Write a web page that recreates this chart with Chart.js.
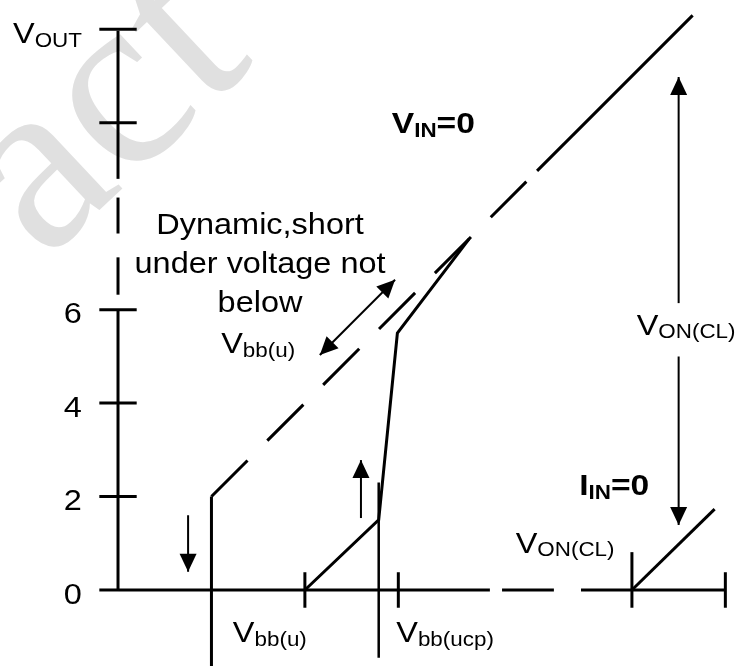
<!DOCTYPE html>
<html>
<head>
<meta charset="utf-8">
<script src="https://cdn.jsdelivr.net/npm/chart.js@4.4.1/dist/chart.umd.min.js"></script>
<style>
  html, body { margin: 0; padding: 0; background: #fff; overflow: hidden; }
  canvas { display: block; }
</style>
</head>
<body>
<canvas id="c" width="739" height="666" style="width:739px;height:666px"></canvas>
<script>
// Supply voltage V_bb on x, output voltage V_OUT on y (volts, same scale both ways)
const xRange = [-2.526, 13.292];
const yRange = [-1.627, 12.628];

// Axis ticks
const yTickValues = [0, 2, 4, 6, 10, 12];
const yTickLabels = ['0', '2', '4', '6', '', ''];
const xTickValues = [4, 6, 11, 13];

// Broken axis pieces [from, to]
const yAxisPieces = [[0, 6], [6.32, 7.12], [7.63, 8.40], [8.80, 11.97]];
const xAxisPieces = [[0, 7.96], [8.22, 9.33], [9.91, 12.99]];

// Characteristics [V_bb, V_OUT]
const vinZeroDashed = [[2, 2], [8.74, 8.74]];
const vinZeroSolid = [[8.97, 8.97], [12.3, 12.3]];
const startupCurve = [[4, 0], [5.58, 1.5], [5.98, 5.5], [7.52, 7.52]];
const clampCurve = [[11, 0], [12.77, 1.73]];
const dropLine = [[2, 2], [2, -1.75]];
const ucpLine = [[5.58, 2.3], [5.58, -1.45]];

// Arrows [tail, tip]
const arrowFall = [[1.5, 1.6], [1.5, 0.39]];
const arrowRise = [[5.2, 1.54], [5.2, 2.78]];
const arrowDynamic = [[4.32, 5.03], [5.93, 6.64]];
const arrowClampUp = [[12, 6.14], [12, 10.98]];
const arrowClampDown = [[12, 5.0], [12, 1.39]];

const SANS = "'Liberation Sans', Arial, Helvetica, sans-serif";
const M = '29px ' + SANS;
const S = '20px ' + SANS;
const MB = 'bold 30px ' + SANS;
const SB = 'bold 20px ' + SANS;

// Text notes: parts = [text, font, baseline shift]; at = [V_bb, V_OUT]
const notes = [
  { parts: [['V', M], ['OUT', S, 4]], at: [-2.247, 11.708], align: 'left' },
  { parts: [['Dynamic,short', M]], at: [3.04, 7.62], align: 'center' },
  { parts: [['under voltage not', M]], at: [3.04, 6.785], align: 'center' },
  { parts: [['below', M]], at: [3.04, 5.95], align: 'center' },
  { parts: [['V', M], ['bb(u)', S, 4]], at: [3.0, 5.07], align: 'center' },
  { parts: [['V', MB], ['IN', SB, 4], ['=0', MB]], at: [6.75, 9.78], align: 'center' },
  { parts: [['V', M], ['ON(CL)', S, 3]], at: [12.16, 5.46], align: 'center' },
  { parts: [['I', MB], ['IN', SB, 4], ['=0', MB]], at: [10.62, 2.03], align: 'center' },
  { parts: [['V', M], ['ON(CL)', S, 3]], at: [9.57, 0.79], align: 'center' },
  { parts: [['V', M], ['bb(u)', S, 4]], at: [3.25, -1.11], align: 'center' },
  { parts: [['V', M], ['bb(ucp)', S, 4]], at: [7.0, -1.11], align: 'center' }
];

const toPts = arr => arr.map(([x, y]) => ({ x, y }));

function seg(points, extra) {
  return Object.assign({
    data: toPts(points),
    showLine: true,
    borderColor: '#000',
    backgroundColor: '#000',
    borderWidth: 3,
    borderCapStyle: 'butt',
    pointRadius: 0,
    pointHoverRadius: 0,
    tension: 0,
    fill: false
  }, extra || {});
}

const datasets = [];
yAxisPieces.forEach(([a, b]) => datasets.push(seg([[0, a], [0, b]])));
xAxisPieces.forEach(([a, b]) => datasets.push(seg([[a, 0], [b, 0]])));
yTickValues.forEach(v => datasets.push(seg(v === 0 ? [[-0.4, 0], [0, 0]] : [[-0.4, v], [0.4, v]])));
xTickValues.forEach(v => datasets.push(seg(v === 11 ? [[v, -0.38], [v, 0.81]] : [[v, -0.38], [v, 0.38]])));

datasets.push(seg(vinZeroDashed, { borderDash: [51, 28] }));
datasets.push(seg(vinZeroSolid));
datasets.push(seg(startupCurve));
datasets.push(seg(clampCurve));
datasets.push(seg(dropLine));
datasets.push(seg(ucpLine, { borderWidth: 2.5 }));

datasets.push(seg(arrowFall, { borderWidth: 2, heads: ['end'] }));
datasets.push(seg(arrowRise, { borderWidth: 2, heads: ['end'] }));
datasets.push(seg(arrowDynamic, { borderWidth: 2, heads: ['start', 'end'] }));
datasets.push(seg(arrowClampUp, { borderWidth: 2, heads: ['end'] }));
datasets.push(seg(arrowClampDown, { borderWidth: 2, heads: ['end'] }));

function drawRich(ctx, parts, px, py, align, hs) {
  let w = 0;
  const m = parts.map(([t, f, dy]) => {
    ctx.font = f;
    const pw = ctx.measureText(t).width;
    w += pw;
    return { t, f, dy: dy || 0, pw };
  });
  const x0 = align === 'center' ? px - w * hs / 2 : align === 'right' ? px - w * hs : px;
  ctx.save();
  ctx.translate(x0, py);
  ctx.scale(hs, 1);
  ctx.textBaseline = 'alphabetic';
  ctx.textAlign = 'left';
  ctx.fillStyle = '#000';
  let x = 0;
  m.forEach(p => {
    ctx.font = p.f;
    ctx.fillText(p.t, x, p.dy);
    x += p.pw;
  });
  ctx.restore();
}

const backdrop = {
  id: 'backdrop',
  beforeDraw(chart) {
    const ctx = chart.ctx;
    ctx.save();
    ctx.fillStyle = '#fff';
    ctx.fillRect(0, 0, chart.width, chart.height);
    // faint watermark lettering
    ctx.translate(44, 262);
    ctx.rotate(-Math.PI * 0.24);
    ctx.font = "250px 'Liberation Serif', 'Times New Roman', serif";
    ctx.fillStyle = '#e0e0e0';
    ctx.textBaseline = 'alphabetic';
    ctx.fillText('act', 0, 0);
    ctx.restore();
  }
};

const annotate = {
  id: 'annotate',
  afterDatasetsDraw(chart) {
    const ctx = chart.ctx;
    const xs = chart.scales.x, ys = chart.scales.y;
    // arrowheads
    chart.data.datasets.forEach(ds => {
      if (!ds.heads) return;
      const pts = ds.data;
      ds.heads.forEach(which => {
        const tip = which === 'end' ? pts[pts.length - 1] : pts[0];
        const from = which === 'end' ? pts[pts.length - 2] : pts[1];
        const tx = xs.getPixelForValue(tip.x), ty = ys.getPixelForValue(tip.y);
        const fx = xs.getPixelForValue(from.x), fy = ys.getPixelForValue(from.y);
        const ang = Math.atan2(ty - fy, tx - fx);
        const len = 18, half = 8.5;
        ctx.save();
        ctx.translate(tx, ty);
        ctx.rotate(ang);
        ctx.beginPath();
        ctx.moveTo(0, 0);
        ctx.lineTo(-len, -half);
        ctx.lineTo(-len, half);
        ctx.closePath();
        ctx.fillStyle = '#000';
        ctx.fill();
        ctx.restore();
      });
    });
    // tick labels
    yTickValues.forEach((v, i) => {
      if (!yTickLabels[i]) return;
      drawRich(ctx, [[yTickLabels[i], M]], xs.getPixelForValue(-0.97), ys.getPixelForValue(v - 0.29), 'center', 1.12);
    });
    // notes
    notes.forEach(n => {
      drawRich(ctx, n.parts, xs.getPixelForValue(n.at[0]), ys.getPixelForValue(n.at[1]), n.align, 1.12);
    });
  }
};

new Chart(document.getElementById('c'), {
  type: 'scatter',
  data: { datasets },
  options: {
    responsive: false,
    devicePixelRatio: 1,
    animation: false,
    events: [],
    layout: { padding: 0 },
    plugins: { legend: { display: false }, tooltip: { enabled: false } },
    scales: {
      x: { type: 'linear', min: xRange[0], max: xRange[1], display: false },
      y: { type: 'linear', min: yRange[0], max: yRange[1], display: false }
    }
  },
  plugins: [backdrop, annotate]
});
</script>
</body>
</html>
